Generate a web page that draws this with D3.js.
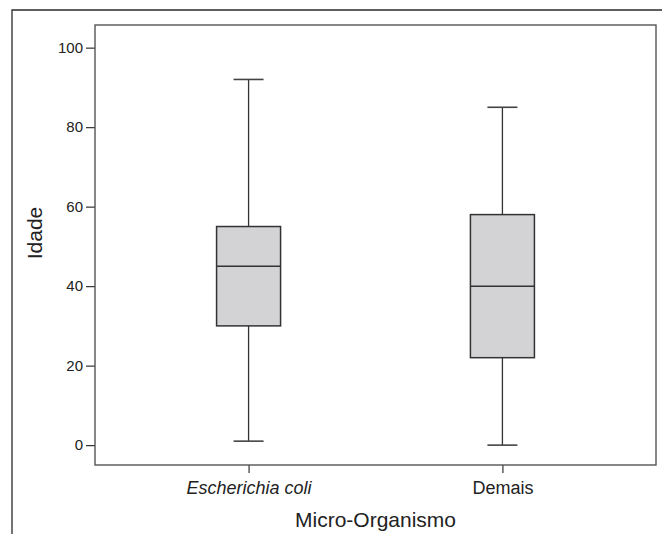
<!DOCTYPE html>
<html>
<head>
<meta charset="utf-8">
<script src="https://cdn.jsdelivr.net/npm/d3@7"></script>
<style>
  body { margin: 0; background: #fff; }
  svg { display: block; font-family: "Liberation Sans", Arial, Helvetica, sans-serif; }
</style>
</head>
<body>
<svg id="chart" width="662" height="534"></svg>
<script>
// box plot summary per group
const categories = ["Escherichia coli", "Demais"];
const whiskerLow = [1, 0];
const q1 = [30, 22];
const median = [45, 40];
const q3 = [55, 58];
const whiskerHigh = [92, 85];
const yTicks = [0, 20, 40, 60, 80, 100];

const svg = d3.select("#chart");
const plotLeft = 95, plotRight = 656, plotTop = 25, plotBottom = 465;

// outer frame (only top and left edges show in the crop)
svg.append("path")
  .attr("d", "M12,534 L12,10 L662,10")
  .attr("fill", "none")
  .attr("stroke", "#2a2a2a")
  .attr("stroke-width", 1.3);

let yScale = d3.scaleLinear().domain([-5, 105.7]).range([plotBottom, plotTop]);
let xScale = d3.scalePoint().domain(categories).range([plotLeft, plotRight]).padding(0.605);
const boxW = 64, capW = 30;

// data rows for the boxes
let rows = categories.map((c, i) => ({
  cat: c, lo: whiskerLow[i], q1: q1[i], med: median[i], q3: q3[i], hi: whiskerHigh[i]
}));

// y axis
let yAxis = d3.axisLeft(yScale).tickValues(yTicks).tickSize(9).tickPadding(3);
let gy = svg.append("g")
  .attr("transform", `translate(${plotLeft},0)`)
  .call(yAxis);
gy.select(".domain").remove();
gy.selectAll(".tick line").attr("stroke", "#333").attr("stroke-width", 1.2);
gy.selectAll(".tick text").attr("fill", "#222").style("font-size", "15px");

// x axis
let xAxis = d3.axisBottom(xScale).tickSize(8).tickPadding(8);
let gx = svg.append("g")
  .attr("transform", `translate(0,${plotBottom})`)
  .call(xAxis);
gx.select(".domain").remove();
gx.selectAll(".tick line").attr("stroke", "#333").attr("stroke-width", 1.2);
gx.selectAll(".tick text")
  .attr("fill", "#222")
  .style("font-size", "18px")
  .style("font-style", d => d === "Escherichia coli" ? "italic" : "normal");

// plot frame
svg.append("rect")
  .attr("x", plotLeft).attr("y", plotTop)
  .attr("width", plotRight - plotLeft).attr("height", plotBottom - plotTop)
  .attr("fill", "none")
  .attr("stroke", "#555")
  .attr("stroke-width", 1.4);

// boxes
let g = svg.selectAll(".box")
  .data(rows)
  .enter()
  .append("g")
  .attr("class", "box")
  .attr("transform", d => `translate(${xScale(d.cat)},0)`);

// whisker stems
g.append("line")
  .attr("x1", 0).attr("x2", 0)
  .attr("y1", d => yScale(d.hi)).attr("y2", d => yScale(d.q3))
  .attr("stroke", "#333").attr("stroke-width", 1.3);
g.append("line")
  .attr("x1", 0).attr("x2", 0)
  .attr("y1", d => yScale(d.q1)).attr("y2", d => yScale(d.lo))
  .attr("stroke", "#333").attr("stroke-width", 1.3);
// caps
g.append("line")
  .attr("x1", -capW / 2).attr("x2", capW / 2)
  .attr("y1", d => yScale(d.hi)).attr("y2", d => yScale(d.hi))
  .attr("stroke", "#444").attr("stroke-width", 1.6);
g.append("line")
  .attr("x1", -capW / 2).attr("x2", capW / 2)
  .attr("y1", d => yScale(d.lo)).attr("y2", d => yScale(d.lo))
  .attr("stroke", "#444").attr("stroke-width", 1.6);
// box
g.append("rect")
  .attr("x", -boxW / 2)
  .attr("y", d => yScale(d.q3))
  .attr("width", boxW)
  .attr("height", d => yScale(d.q1) - yScale(d.q3))
  .attr("fill", "#d3d3d5")
  .attr("stroke", "#333")
  .attr("stroke-width", 1.5);
// median
g.append("line")
  .attr("x1", -boxW / 2).attr("x2", boxW / 2)
  .attr("y1", d => yScale(d.med)).attr("y2", d => yScale(d.med))
  .attr("stroke", "#333").attr("stroke-width", 1.5);

// axis titles
svg.append("text")
  .attr("x", (plotLeft + plotRight) / 2)
  .attr("y", 527)
  .attr("text-anchor", "middle")
  .attr("fill", "#222")
  .style("font-size", "21px")
  .text("Micro-Organismo");

svg.append("text")
  .attr("transform", `translate(42,${(plotTop + plotBottom) / 2 - 12}) rotate(-90)`)
  .attr("text-anchor", "middle")
  .attr("fill", "#222")
  .style("font-size", "21px")
  .text("Idade");
</script>
</body>
</html>
